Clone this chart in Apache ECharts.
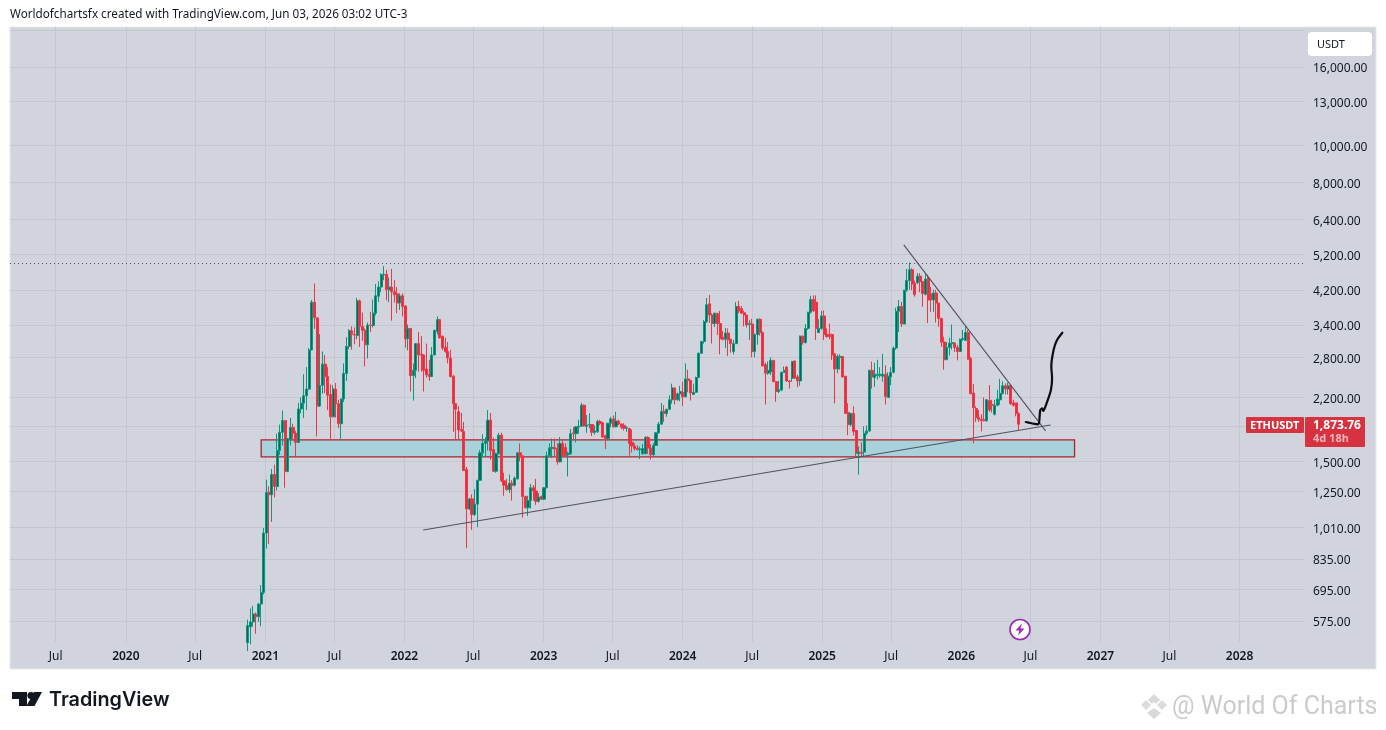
<!DOCTYPE html>
<html><head><meta charset="utf-8">
<style>html,body{margin:0;padding:0;background:#fff}#c{width:1386px;height:730px}</style>
<script src="https://cdn.jsdelivr.net/npm/echarts@6/dist/echarts.min.js"></script>
</head><body><div id="c"></div>
<script>
const firstWeek = Date.UTC(2020, 10, 16);
const opens = [
505,555,572,600,590,637,683,975,1245,1228,
1386,1290,1601,1786,1917,1412,1712,1837,1775,1680,
2054,2127,2223,2314,2928,3898,3550,2090,2367,2690,
2495,2240,1960,2314,2120,1880,2180,2540,2990,3286,
3210,3190,3930,3370,3290,3020,3400,3390,3650,4040,
4270,4590,4610,4200,4270,4150,4100,3880,4050,3810,
3130,3330,2510,2590,3040,2850,2840,2610,2530,2495,
2840,3270,3510,3180,2970,2900,2790,2500,2120,2020,
1815,1795,1430,1127,1197,1090,1160,1338,1578,1670,
1695,1920,1610,1413,1570,1755,1335,1300,1265,1315,
1300,1350,1578,1550,1214,1135,1185,1280,1255,1180,
1215,1195,1280,1550,1620,1630,1620,1495,1670,1630,
1560,1570,1780,1770,1840,1850,2100,1850,1865,1870,
1785,1790,1905,1890,1750,1720,1885,1935,1845,1910,
1875,1860,1830,1825,1680,1645,1620,1610,1570,1570,
1730,1625,1560,1650,1780,1875,2025,2000,2050,2170,
2330,2170,2250,2270,2210,2460,2440,2240,2270,2480,
2870,3080,3470,3860,3610,3430,3640,3430,3160,3120,
3240,3120,2900,3040,3800,3750,3660,3610,3410,3420,
2900,3210,3520,3250,2680,2546,2565,2750,2420,2280,
2300,2560,2640,2430,2470,2740,2490,2430,3180,3060,
3330,3670,3960,3900,3250,3330,3590,3220,3210,3210,
2860,2610,2800,2815,2500,2010,1870,2000,1805,1570,
1585,1585,1775,1800,2590,2480,2510,2510,2500,2530,
2200,2490,2560,2960,3690,3800,3420,4190,4440,4740,
4370,4380,4560,4410,4090,4510,4100,3950,4120,3880,
3540,3070,2760,2970,3040,3050,2970,2900,3115,3100,
3250,2780,2260,2060,1950,1930,1925,1915,2160,2110,
1990,2100,2170,2255,2360,2315,2360,2130,2130,2000];
const closes = [
560,572,600,590,637,683,975,1245,1228,1386,
1290,1601,1786,1917,1412,1720,1837,1775,1680,2054,
2127,2223,2314,2928,3898,3550,2090,2367,2690,2495,
2230,1960,2314,2120,1880,2180,2540,2990,3286,3210,
3200,3930,3370,3290,3020,3400,3390,3650,4050,4270,
4600,4610,4200,4270,4150,4080,3880,4050,3800,3130,
3330,2510,2590,3040,2840,2840,2590,2520,2495,2840,
3290,3510,3150,2960,2900,2790,2495,2120,2050,1810,
1800,1420,1127,1197,1090,1160,1338,1578,1670,1695,
1920,1600,1413,1570,1755,1335,1300,1265,1315,1300,
1355,1578,1550,1214,1135,1185,1280,1255,1180,1210,
1195,1280,1550,1625,1630,1615,1495,1670,1550,1550,
1575,1770,1770,1845,1850,2100,1855,1865,1870,1785,
1800,1905,1880,1735,1720,1885,1935,1845,1910,1875,
1840,1830,1835,1670,1645,1620,1610,1615,1620,1730,
1625,1560,1650,1780,1875,2025,2000,2050,2170,2330,
2170,2250,2280,2210,2460,2440,2260,2270,2480,2870,
3080,3470,3840,3610,3430,3650,3430,3130,3120,3240,
3110,3040,3040,3800,3700,3650,3610,3400,3430,2900,
3210,3520,3250,2660,2546,2590,2750,2420,2280,2305,
2560,2590,2430,2420,2730,2470,2430,3180,3060,3330,
3670,3960,3700,3330,3330,3590,3210,3170,3170,2840,
2610,2815,2815,2490,2000,1870,2000,1795,1575,1585,
1575,1775,1800,2590,2490,2530,2530,2530,2530,2215,
2500,2555,2960,3690,3800,3420,4190,4440,4740,4350,
4080,4560,4410,4105,4480,3950,3950,4120,3880,3540,
3065,2760,2970,3050,3060,2970,2900,3120,3135,3250,
2770,2250,2070,1950,1930,1915,1915,2170,2040,2100,
2100,2180,2255,2360,2315,2360,2120,2100,2000,1873.76];
const lows = [
480,500,556,533,572,557,675,888,914,1043,
1208,1260,1560,1650,1280,1405,1650,1700,1535,1680,
2000,1945,2040,2300,2920,3320,1740,2080,2250,2260,
2040,1700,1950,1950,1830,1710,2140,2430,2940,2930,
3030,3120,2980,3090,2650,2780,3260,3350,3600,3900,
4140,4450,3940,3900,3490,3890,3650,3720,3580,2970,
2920,2280,2160,2470,2570,2570,2280,2480,2430,2490,
2835,3210,3130,2920,2880,2700,2480,1790,1705,1710,
1790,1415,890,1120,994,1080,1010,1335,1540,1540,
1600,1515,1410,1400,1565,1325,1220,1260,1240,1185,
1290,1345,1500,1070,1130,1080,1130,1185,1155,1170,
1190,1190,1275,1540,1530,1540,1470,1490,1545,1545,
1370,1560,1700,1680,1770,1845,1850,1780,1830,1745,
1760,1780,1865,1725,1615,1700,1840,1840,1840,1865,
1820,1805,1790,1550,1580,1600,1600,1520,1560,1565,
1570,1515,1550,1645,1770,1870,1900,1960,2040,2120,
2110,2160,2150,2092,2200,2270,2160,2235,2265,2475,
2855,3040,3440,3440,3040,3360,3200,2850,3100,2960,
2820,2880,2850,3035,3650,3640,3370,3350,3110,2800,
2800,3020,3190,2650,2110,2520,2520,2410,2145,2260,
2285,2550,2420,2320,2420,2465,2340,2360,3020,3040,
3300,3640,3680,3110,3240,3300,3110,3150,3120,2755,
2125,2545,2600,2480,1995,1755,1850,1750,1540,1385,
1540,1540,1755,1790,2320,2345,2450,2480,2420,2110,
2195,2370,2545,2930,3260,3360,3415,4150,4200,4190,
4030,4350,4140,3790,4060,3440,3680,3680,3450,3360,
2980,2600,2755,2830,2930,2890,2750,2890,3090,3090,
2760,2245,1670,1900,1900,1795,1905,1900,2020,2010,
1975,2085,2105,2240,2240,2240,2105,2084,1965,1810];
const highs = [
580,620,630,605,640,713,1005,1343,1290,1432,
1470,1770,1870,2035,1917,1725,1945,1880,1800,2130,
2200,2530,2640,2960,3950,4360,3550,3220,2900,2840,
2640,2380,2370,2400,2170,2185,2700,3160,3320,3370,
3350,4000,3960,3660,3330,3450,3680,3960,4350,4420,
4640,4840,4730,4520,4760,4450,4270,4110,4110,3830,
3410,3340,2700,3050,3260,3180,2850,3040,2760,2980,
3310,3580,3520,3185,3150,3070,2930,2520,2125,2090,
2005,1900,1450,1205,1230,1270,1342,1605,1765,1735,
2040,2005,1730,1580,1780,1780,1400,1350,1385,1340,
1370,1580,1670,1555,1220,1220,1310,1300,1350,1240,
1220,1285,1590,1670,1720,1720,1670,1735,1710,1670,
1590,1820,1840,1850,1925,2130,2110,1980,2000,1875,
1860,1925,1925,1900,1760,1890,1960,1975,2020,1925,
1885,1885,1850,1835,1815,1670,1650,1640,1665,1745,
1745,1660,1670,1785,1900,2130,2100,2055,2230,2390,
2335,2265,2360,2420,2700,2600,2445,2390,2495,2880,
3090,3500,4000,4070,3650,3660,3660,3700,3280,3340,
3330,3130,3110,3900,3930,3810,3700,3615,3500,3530,
3230,3530,3540,3270,2710,2730,2800,2755,2430,2430,
2570,2650,2660,2435,2740,2745,2520,3190,3190,3420,
3680,4050,4060,4060,3520,3700,3710,3330,3430,3230,
2870,2850,2850,2820,2500,2125,2005,2085,1810,1640,
1680,1850,1860,2600,2730,2710,2760,2640,2860,2670,
2560,2640,2990,3770,3950,3910,4200,4760,4950,4780,
4440,4640,4640,4415,4640,4600,4270,4200,4200,3885,
3545,3170,3070,3150,3410,3065,3020,3135,3300,3375,
3300,2810,2385,2085,2040,1990,2200,2180,2370,2170,
2170,2305,2460,2425,2395,2405,2375,2170,2130,2010];

const priceGrid = [20000,16000,13000,10000,8000,6400,5200,4200,3400,2800,2200,1850,1500,1250,1010,835,695,575];
const priceLabels = [16000,13000,10000,8000,6400,5200,4200,3400,2800,2200,1500,1250,1010,835,695,575];
const timeTicks = ['2019-07-01','2020-01-01','2020-07-01','2021-01-01','2021-07-01','2022-01-01','2022-07-01','2023-01-01','2023-07-01','2024-01-01','2024-07-01','2025-01-01','2025-07-01','2026-01-01','2026-07-01','2027-01-01','2027-07-01','2028-01-01'];
const athLevel = 4933;
const zone = {from:'2020-12-21', to:'2026-10-25', top:1705, bottom:1540};
const supportLine = [['2022-02-19',993],['2026-08-23',1866]];
const resistanceLine = [['2025-08-03',5498],['2026-08-10',1800]];
const drawnDates = ['2026-06-19','2026-07-09','2026-07-21','2026-07-24','2026-07-27','2026-08-01','2026-08-04','2026-08-13','2026-08-24','2026-08-27','2026-08-25','2026-08-31','2026-09-09','2026-09-23'];
const drawnPrices = [1899,1880,1873,1892,2041,2062,2029,2129,2302,2474,2648,2927,3107,3246];

const WEEK = 7*864e5;
const candles = opens.map((o,i)=>[firstWeek+i*WEEK,o,closes[i],lows[i],highs[i]]);
const ts = d=>new Date(d+'T00:00:00Z').getTime();
const toPt = p=>({coord:[ts(p[0]),p[1]]});
const FONT='"Noto Sans",sans-serif', INK='#131722';
const txt=(text,x,y,o)=>({type:'text',z:o.z||50,style:{text,x,y,fill:o.fill||INK,font:o.font,textVerticalAlign:'middle',textAlign:o.align||'left'}});
const rect=(x,y,w,h,fill,r,z,stroke)=>({type:'rect',z:z,shape:{x,y,width:w,height:h,r:r||0},style:{fill,stroke:stroke||null,lineWidth:stroke?1:0}});
const poly=(points,fill,z)=>({type:'polygon',z:z||50,shape:{points},style:{fill}});

const chart=echarts.init(document.getElementById('c'),null,{renderer:'canvas'});
chart.setOption({
 animation:false,useUTC:true,backgroundColor:'#ffffff',
 grid:{left:10,right:82,top:27,bottom:88,containLabel:false},
 xAxis:{type:'value',min:Date.UTC(2019,2,3),max:Date.UTC(2028,5,18),scale:true,
  axisLine:{show:false},
  axisTick:{show:false,customValues:timeTicks.map(ts)},
  splitLine:{show:true,lineStyle:{color:'#c4c7d0',width:1}},
  axisLabel:{customValues:timeTicks.map(ts),margin:9,hideOverlap:false,showMinLabel:true,showMaxLabel:true,
   formatter:v=>{const d=new Date(v);return d.getUTCMonth()===6?'{m|Jul}':'{y|'+d.getUTCFullYear()+'}';},
   rich:{m:{fontFamily:FONT,fontSize:12,color:INK},y:{fontFamily:FONT,fontSize:12,fontWeight:600,color:INK}}}},
 yAxis:{type:'log',logBase:10,position:'right',min:507,max:20340,
  axisLine:{show:false},
  axisTick:{show:false,customValues:priceGrid},
  splitLine:{show:true,lineStyle:{color:'#c4c7d0',width:1}},
  minorTick:{show:false},minorSplitLine:{show:false},
  axisLabel:{customValues:priceLabels,margin:9,verticalAlign:'top',lineHeight:4,fontFamily:FONT,fontSize:12,color:INK,
   formatter:v=>Number(v).toLocaleString('en-US',{minimumFractionDigits:2,maximumFractionDigits:2})}},
 series:[
  {type:'candlestick',name:'ETHUSDT',data:candles,barWidth:2.6,z:3,
   itemStyle:{color:'#05685a',color0:'#e42f3e',borderColor:'#089981',borderColor0:'#f23645',borderWidth:1},
   markArea:{silent:true,z:1,itemStyle:{color:'#a8d1da',borderColor:'#b0202c',borderWidth:1.3},
    data:[[{coord:[ts(zone.from),zone.top]},{coord:[ts(zone.to),zone.bottom]}]]},
   markLine:{silent:true,symbol:'none',animation:false,label:{show:false},z:4,
    data:[
     [{coord:[Date.UTC(2019,2,3),athLevel],lineStyle:{color:'#50535e',type:[1,3],width:1}},{coord:[Date.UTC(2028,5,18),athLevel]}],
     [Object.assign(toPt(supportLine[0]),{lineStyle:{color:'#50535e',type:'solid',width:1.1}}),toPt(supportLine[1])],
     [Object.assign(toPt(resistanceLine[0]),{lineStyle:{color:'#50535e',type:'solid',width:1.1}}),toPt(resistanceLine[1])]
    ]}},
  {type:'line',name:'drawn',data:drawnDates.map((d,i)=>[ts(d),drawnPrices[i]]),showSymbol:false,smooth:0.2,z:5,silent:true,
   lineStyle:{color:'#0b0d12',width:2.2,cap:'round',join:'round'}}
 ],
 graphic:{elements:[
  rect(10,27,1366,642,'#d1d4dc',0,-10,'#e6e7eb'),
  txt('Worldofchartsfx created with TradingView.com, Jun 03, 2026 03:02 UTC-3',10,14.5,{font:'11.7px '+FONT}),
  rect(1308,32,64,24,'#ffffff',4,40),
  txt('USDT',1317,45,{font:'11px '+FONT}),
  rect(1246,417,58,16,'#d63240',1,40),
  txt('ETHUSDT',1250,425.5,{font:'bold 11px '+FONT,fill:'#ffffff'}),
  rect(1305,417,60,30,'#d63240',1,40),
  txt('1,873.76',1313,425.5,{font:'bold 12px '+FONT,fill:'#ffffff'}),
  txt('4d 18h',1313,439,{font:'bold 11px '+FONT,fill:'#f3b6bb'}),
  {type:'circle',z:45,shape:{cx:1020,cy:629.5,r:10},style:{fill:'#ffffff',stroke:'#9c27b0',lineWidth:1.6}},
  poly([[1022,623.5],[1015.5,630.5],[1019.5,630.5],[1018,635.5],[1024.5,628.5],[1020.5,628.5]],'#9c27b0',46),
  poly([[12,692],[27,692],[27,706],[19,706],[19,699],[12,699]],INK),
  {type:'circle',z:50,shape:{cx:31,cy:695.5,r:3.6},style:{fill:INK}},
  poly([[34,692],[42,692],[34.5,706],[26.5,706]],INK),
  txt('TradingView',49,700.5,{font:'600 19.8px Inter,'+FONT}),
  poly([[1154,694],[1160,700],[1154,706],[1148,700]],'#d9d9d9'),
  poly([[1146,700],[1151,705],[1146,710],[1141,705]],'#dcdcdc'),
  poly([[1162,700],[1167,705],[1162,710],[1157,705]],'#dcdcdc'),
  poly([[1154,708],[1161,713],[1154,719],[1147,713]],'#d9d9d9'),
  poly([[1154,702],[1157,705],[1154,708],[1151,705]],'#ffffff',51),
  txt('@ World Of Charts',1172,708,{font:'25px Roboto,'+FONT,fill:'#cbcbcd'})
 ]}
});
</script></body></html>
